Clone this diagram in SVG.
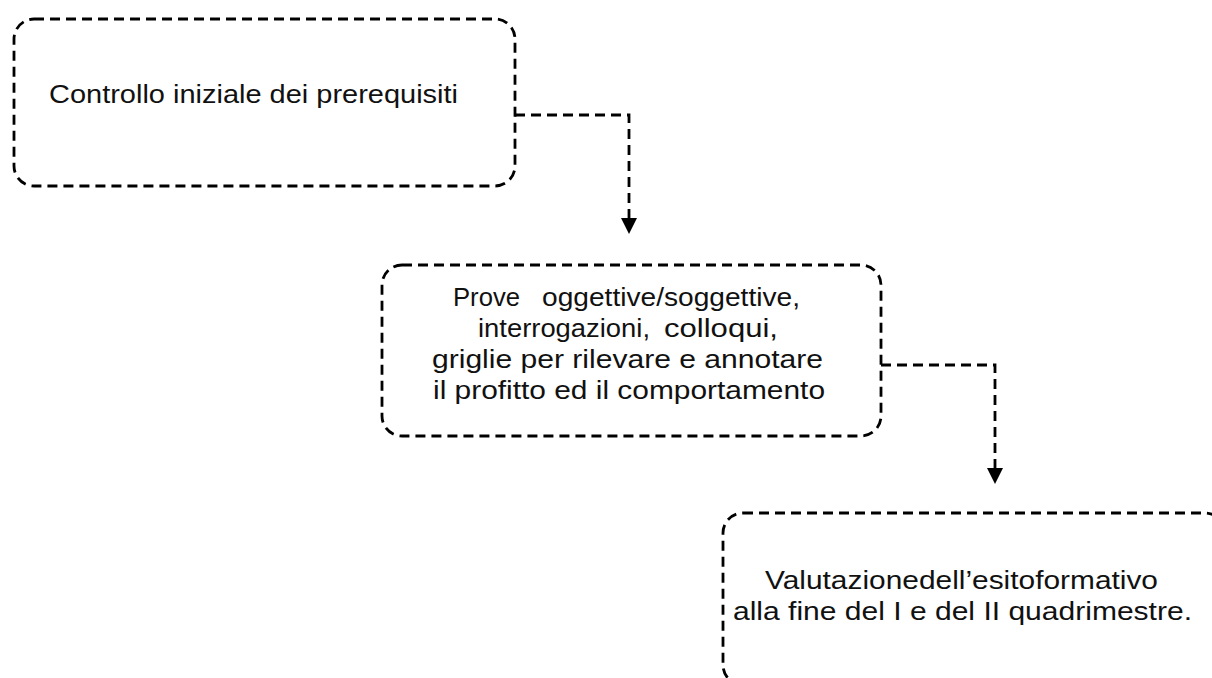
<svg xmlns="http://www.w3.org/2000/svg" width="1212" height="678" viewBox="0 0 1212 678">
<style>
.box{fill:none;stroke:#000;stroke-width:2.8;stroke-dasharray:10 6}
.conn{fill:none;stroke:#000;stroke-width:2.8;stroke-dasharray:10 6}
.t{font-family:"Liberation Sans","Open Sans",sans-serif;font-size:26.5px;fill:#111}
</style>
<defs>
<marker id="arr" markerUnits="userSpaceOnUse" markerWidth="16" markerHeight="16" refX="0" refY="8" orient="auto" viewBox="0 0 16 16">
<path d="M0,0 L16,8 L0,16 z" fill="#000"/>
</marker>
</defs>
<g id="connectors">
<path class="conn" d="M515,115 H629 V218" marker-end="url(#arr)"/>
<path class="conn" d="M881,365 H995 V468" marker-end="url(#arr)"/>
</g>
<g id="node1">
<rect class="box" x="14" y="19" width="501" height="167" rx="20" ry="20"/>
<text class="t" x="49" y="103" textLength="409" lengthAdjust="spacingAndGlyphs">Controllo iniziale dei prerequisiti</text>
</g>
<g id="node2">
<rect class="box" x="382" y="265" width="499" height="171" rx="20" ry="20"/>
<text class="t" y="306"><tspan x="453" textLength="67" lengthAdjust="spacingAndGlyphs">Prove</tspan><tspan x="542" textLength="258" lengthAdjust="spacingAndGlyphs">oggettive/soggettive,</tspan></text>
<text class="t" y="337"><tspan x="478" textLength="172" lengthAdjust="spacingAndGlyphs">interrogazioni,</tspan><tspan x="664" textLength="114" lengthAdjust="spacingAndGlyphs">colloqui,</tspan></text>
<text class="t" x="432" y="368" textLength="391" lengthAdjust="spacingAndGlyphs">griglie per rilevare e annotare</text>
<text class="t" x="433" y="399" textLength="392" lengthAdjust="spacingAndGlyphs">il profitto ed il comportamento</text>
</g>
<g id="node3">
<rect class="box" x="723" y="513" width="502" height="172" rx="20" ry="20"/>
<text class="t" x="765" y="589" textLength="393" lengthAdjust="spacingAndGlyphs">Valutazionedell’esitoformativo</text>
<text class="t" x="733" y="620" textLength="459" lengthAdjust="spacingAndGlyphs">alla fine del I e del II quadrimestre.</text>
</g>
</svg>
